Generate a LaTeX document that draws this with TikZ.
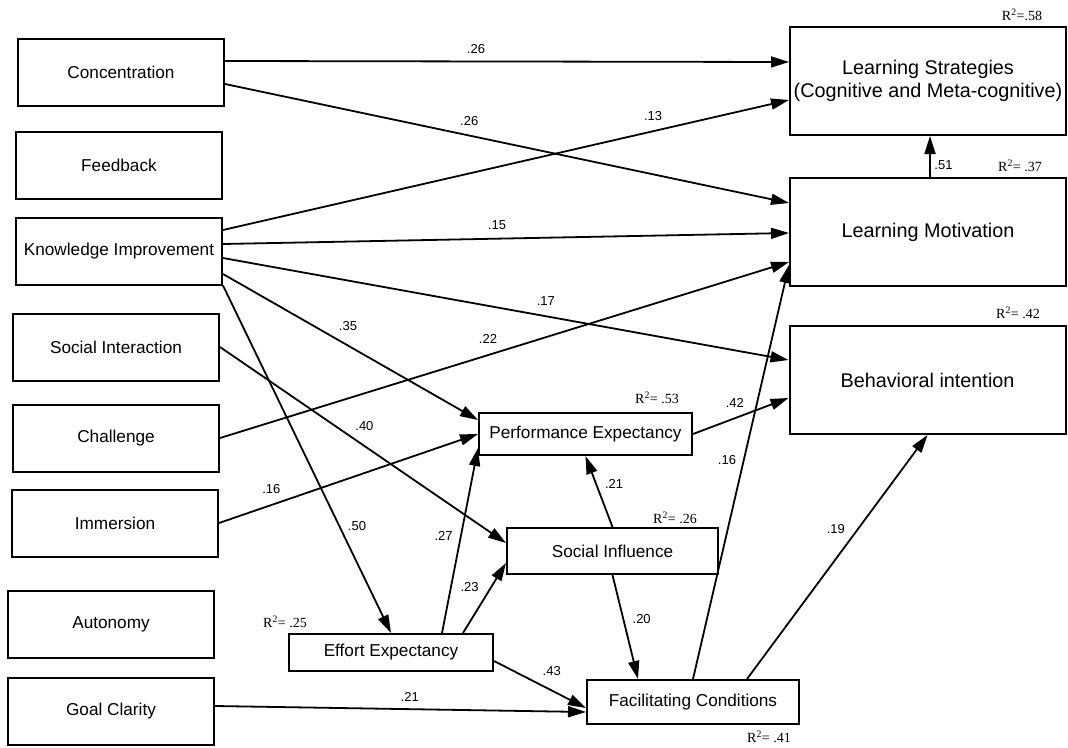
\documentclass[tikz,border=0pt]{standalone}
\usepackage{fontspec}
\setmainfont{Liberation Sans}
\newfontfamily\rsqfont{Liberation Serif}
\usetikzlibrary{arrows.meta}

\begin{document}
\begin{tikzpicture}[-{Triangle[length=18pt,width=11pt]},line width=1.8pt,x=1pt,y=-1pt]
   \useasboundingbox (0,0) rectangle (1068,747);
   \tikzstyle{leftbox}=[draw, line width=2pt, minimum width=206pt, minimum height=67pt, font=\fontsize{17.2}{20}\selectfont]
   \tikzstyle{rightbox}=[draw, line width=2pt, minimum width=276pt, minimum height=108pt, align=center, font=\fontsize{19.8}{23.5}\selectfont]
   \tikzstyle{midbox}=[draw, line width=2pt, minimum width=212pt, minimum height=42pt, font=\fontsize{17.2}{20}\selectfont]
   \tikzstyle{wlabel}=[font=\fontsize{13}{15}\selectfont, inner sep=1pt]
   \tikzstyle{rsq}=[font=\rsqfont\fontsize{14}{16}\selectfont, inner sep=0pt]
   % constructs on the left
   \foreach \name/\txt/\cx/\cy in {conc/Concentration/121/72, feed/Feedback/119/165,
       know/Knowledge Improvement/119/251, socint/Social Interaction/116/347,
       chall/Challenge/116/438, immer/Immersion/115/523,
       auton/Autonomy/111/624, goal/Goal Clarity/111/711} {
       \node[leftbox] (\name) at (\cx,\cy) {\txt};
   }
   % outcomes on the right
   \node[rightbox] (ls) at (928,81) {Learning Strategies\\(Cognitive and Meta-cognitive)};
   \node[rightbox] (lm) at (928,232) {Learning Motivation};
   \node[rightbox] (bi) at (927.5,380) {Behavioral intention};
   % mediators
   \node[midbox, minimum width=213pt] (pe) at (585.5,434) {Performance Expectancy};
   \node[midbox, minimum width=211pt, minimum height=46pt] (si) at (612.5,551) {Social Influence};
   \node[midbox, minimum width=204pt, minimum height=37pt] (ee) at (391,652.5) {Effort Expectancy};
   \node[midbox, minimum height=44pt] (fc) at (693,702) {Facilitating Conditions};
   % explained variance
   \node[rsq] (rls) at (1022,15) {R\textsuperscript{2}=.58};
   \node[rsq] (rlm) at (1020,166) {R\textsuperscript{2}= .37};
   \node[rsq] (rbi) at (1018,313) {R\textsuperscript{2}= .42};
   \node[rsq] (rpe) at (657,398) {R\textsuperscript{2}= .53};
   \node[rsq] (rsi) at (675,518) {R\textsuperscript{2}= .26};
   \node[rsq] (ree) at (285,622) {R\textsuperscript{2}= .25};
   \node[rsq] (rfc) at (769,737) {R\textsuperscript{2}= .41};
   % paths
   \path ([yshift=11pt]conc.east) edge node[wlabel, pos=0.445, above=6pt] {.26} ([yshift=19pt]ls.west);
   \path ([yshift=-12pt]conc.east) edge node[wlabel, pos=0.433, above=8.5pt] {.26} ([yshift=29pt]lm.west);
   \path ([yshift=21pt]know.east) edge node[wlabel, pos=0.76, above=9pt] {.13} ([yshift=-19pt]ls.west);
   \path ([yshift=7pt]know.east) edge node[wlabel, pos=0.484, above=6.7pt] {.15} ([yshift=-1pt]lm.west);
   \path ([yshift=-7pt]know.east) edge node[wlabel, pos=0.571, above=9pt] {.17} ([yshift=20pt]bi.west);
   \path ([yshift=-23pt]know.east) edge node[wlabel, pos=0.49, above=12.6pt] {.35} ([yshift=14pt]pe.west);
   \path (know.south east) edge node[wlabel, pos=0.691, right=7pt] {.50} (ee.north);
   \path (socint.east) edge node[wlabel, pos=0.505, above=13pt] {.40} ([yshift=8pt]si.west);
   \path (chall.east) edge node[wlabel, pos=0.471, above=9.6pt] {.22} ([yshift=-30pt]lm.west);
   \path (immer.east) edge node[wlabel, pos=0.202, above=9.4pt] {.16} (pe.west);
   \path ([xshift=51pt]ee.north) edge node[wlabel, pos=0.527, left=6.5pt] {.27} ([yshift=-14pt]pe.west);
   \path ([xshift=72pt]ee.north) edge node[wlabel, pos=0.662, left=11pt] {.23} ([yshift=-12pt]si.west);
   \path ([yshift=-8.5pt]ee.east) edge node[wlabel, pos=0.628, above=12.5pt] {.43} ([yshift=-6pt]fc.west);
   \path ([yshift=5pt]goal.east) edge node[wlabel, pos=0.525, above=6pt] {.21} ([yshift=-10pt]fc.west);
   \path (si.north) edge node[wlabel, pos=0.603, right=7pt] {.21} (pe.south);
   \path (si.south) edge node[wlabel, pos=0.425, right=7.4pt] {.20} ([xshift=-55pt]fc.north);
   \path (fc.north) edge node[wlabel, pos=0.53, left=6pt] {.16} ([yshift=-33pt]lm.west);
   \path ([xshift=54pt]fc.north) edge node[wlabel, pos=0.614, left=11pt] {.19} (bi.south);
   \path (pe.east) edge node[wlabel, pos=0.4375, above=8.7pt] {.42} ([yshift=-18pt]bi.west);
   \path ([xshift=2pt]lm.north) edge node[wlabel, pos=0.28, right=2.5pt] {.51} ([xshift=2pt]ls.south);
\end{tikzpicture}
\end{document}
